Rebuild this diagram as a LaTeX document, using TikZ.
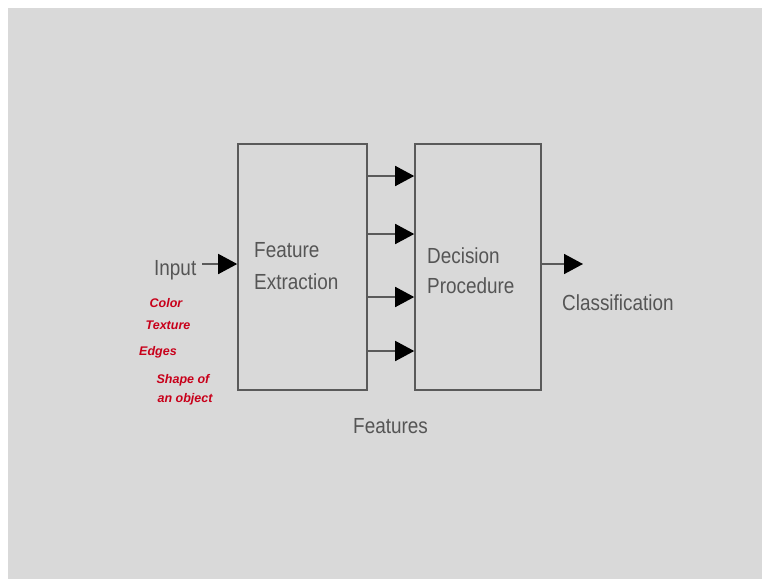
\documentclass[tikz,border=0pt]{standalone}
\usepackage{fontspec}
\setmainfont{Liberation Sans}
\usetikzlibrary{arrows.meta}
\definecolor{bggray}{HTML}{D9D9D9}
\definecolor{txtgray}{HTML}{555555}
\definecolor{linegray}{HTML}{5A5A5A}
\definecolor{inkred}{HTML}{C8001A}
\newcommand{\tallt}[1]{\scalebox{0.97}[1.12]{#1}}
\begin{document}
\begin{tikzpicture}[x=1pt,y=-1pt,
  blockbox/.style={draw=linegray,line width=1.6pt,minimum width=#1,minimum height=246pt,inner sep=0pt},
  lbl/.style={text=txtgray,font=\fontsize{19.5}{23}\selectfont,inner sep=0pt,anchor=base west},
  hand/.style={text=inkred,font=\fontsize{12.5}{14}\selectfont\itshape\bfseries,inner sep=0pt},
  arr/.style={draw=linegray,line width=1.6pt,-{Triangle[length=19pt,width=20pt,fill=black,color=black]}}]
\useasboundingbox (0,0) rectangle (762,579);
\fill[bggray] (8,8) rectangle (762,579);
\node[blockbox=129pt] (fe) at (302.5,267) {};
\node[blockbox=126pt] (dp) at (478,267) {};
\node[lbl] (fe1) at (254,257) {\tallt{Feature}};
\node[lbl] (fe2) at (254,289) {\tallt{Extraction}};
\node[lbl] (dp1) at (427,263) {\tallt{Decision}};
\node[lbl] (dp2) at (427,293) {\tallt{Procedure}};
\node[lbl] (inp) at (154,275) {\tallt{Input}};
\node[lbl] (cls) at (562,310) {\tallt{Classification}};
\node[lbl] (fts) at (353,433) {\tallt{Features}};
\coordinate (inS) at (202,264);
\coordinate (outE) at (583,264);
\draw[arr] (inS) -- (fe.west |- inS);
\draw[arr] (dp.east |- outE) -- (outE);
\foreach \yy [count=\i] in {176,234,297,351}{
  \draw[arr] (fe.east |- 0,\yy) -- (dp.west |- 0,\yy);
}
\node[hand] (h1) at (166,303) {Color};
\node[hand] (h2) at (168,325) {Texture};
\node[hand] (h3) at (158,352) {Edges};
\node[hand] (h4) at (183,380) {Shape of};
\node[hand] (h5) at (185,399) {an object};
\end{tikzpicture}
\end{document}
